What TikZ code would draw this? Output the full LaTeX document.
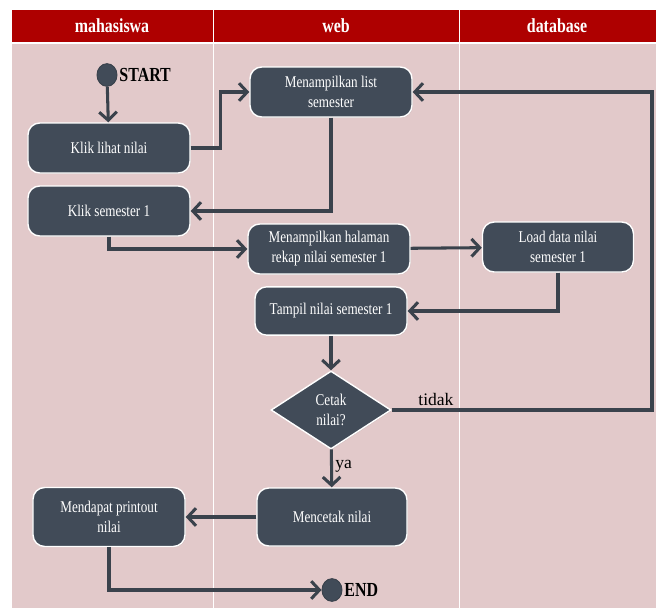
\documentclass[tikz,border=0pt]{standalone}
\usepackage{fontspec}
\setmainfont{Liberation Serif}
\newfontfamily\sempit[FakeStretch=0.8]{Liberation Serif}
\usepackage{xcolor}
\usetikzlibrary{shapes, arrows.meta, positioning, shadows}

\definecolor{merah}{HTML}{AE0000}
\definecolor{jalur}{HTML}{E2C9CA}
\definecolor{kotak}{HTML}{414B58}
\definecolor{garis}{HTML}{3A424C}

\tikzset{
  aksi/.style={rectangle, rounded corners=10pt, draw=white, line width=1.2pt,
    fill=kotak, text=white, align=center, minimum width=4.86cm, minimum height=1.5cm,
    font=\sempit\fontsize{14}{17}\selectfont,
    drop shadow={opacity=0.3, shadow xshift=0.6pt, shadow yshift=-0.6pt}},
  putusan/.style={diamond, draw=white, line width=1.2pt, fill=kotak, text=white,
    align=center, minimum width=3.6cm, minimum height=2.34cm, inner sep=0pt,
    font=\sempit\fontsize{14}{17}\selectfont,
    drop shadow={opacity=0.3, shadow xshift=0.6pt, shadow yshift=-0.6pt}},
  titik/.style={ellipse, fill=kotak, draw=garis, line width=0.8pt, minimum width=0.6cm,
    minimum height=0.68cm, inner sep=0pt},
  tebal/.style={font=\sempit\fontsize{17}{19}\selectfont\bfseries, inner sep=1.5pt},
  panah/.style={draw=garis, line width=2.6pt, -{Straight Barb[length=7pt, width=15pt]}},
  ket/.style={font=\fontsize{15}{17}\selectfont, inner sep=2pt}
}

\begin{document}
\begin{tikzpicture}[x=0.03cm, y=-0.03cm]
  \useasboundingbox (0,0) rectangle (661,614);
  % swimlanes
  \fill[white] (0,0) rectangle (661,614);
  \fill[jalur] (12,44) rectangle (656,608);
  \fill[merah] (12,10) rectangle (656,42);
  \draw[white, thick] (213,10) -- (213,608);
  \draw[white, thick] (459,10) -- (459,608);
  \begin{scope}[every node/.style={text=white, font=\sempit\fontsize{17}{19}\selectfont\bfseries}]
    \node (mhs) at (112,26) {mahasiswa};
    \node (web) at (336,26) {web};
    \node (db) at (557,26) {database};
  \end{scope}

  % nodes
  \node[titik] (start) at (107,75) {};
  \node[tebal, anchor=west] (lblstart) at (start.east) {START};
  \node[aksi] (lihat) at (109,148) {Klik lihat nilai};
  \node[aksi] (klik) at (109,211) {Klik semester 1};
  \node[aksi] (list) at (331,92) {Menampilkan list\\semester};
  \node[aksi] (rekap) at (329,249) {Menampilkan halaman\\rekap nilai semester 1};
  \node[aksi, minimum width=4.53cm] (load) at (558,247) {Load data nilai\\semester 1};
  \node[aksi, minimum width=4.56cm, minimum height=1.45cm] (tampil) at (331,311) {Tampil nilai semester 1};
  \node[putusan] (cetak) at (331,410) {Cetak\\nilai?};
  \node[aksi, minimum width=4.5cm, minimum height=1.74cm] (mencetak) at (332,517) {Mencetak nilai};
  \node[aksi, minimum width=4.56cm, minimum height=1.77cm] (printout) at (109,517) {Mendapat printout\\nilai};
  \node[titik] (end) at (332,590) {};
  \node[tebal, anchor=west] (lblend) at (end.east) {END};
  \coordinate (balik) at (652,410);

  % connectors
  \draw[panah] (start) -- (lihat);
  \draw[panah] (lihat.east) -- ++(30,0) |- (list.west);
  \draw[panah] (list.south) |- (klik.east);
  \draw[panah] (klik.south) |- (rekap.west);
  \draw[panah] (rekap) -- (load);
  \draw[panah] (load.south) |- (tampil.east);
  \draw[panah] (tampil) -- (cetak);
  \draw[panah] (cetak.east) -- node[ket, above, pos=0.17] {tidak} (balik) |- (list.east);
  \draw[panah] (cetak) -- node[ket, right, pos=0.45] {ya} (mencetak);
  \draw[panah] (mencetak) -- (printout);
  \draw[panah] (printout.south) |- (end.west);
\end{tikzpicture}
\end{document}
